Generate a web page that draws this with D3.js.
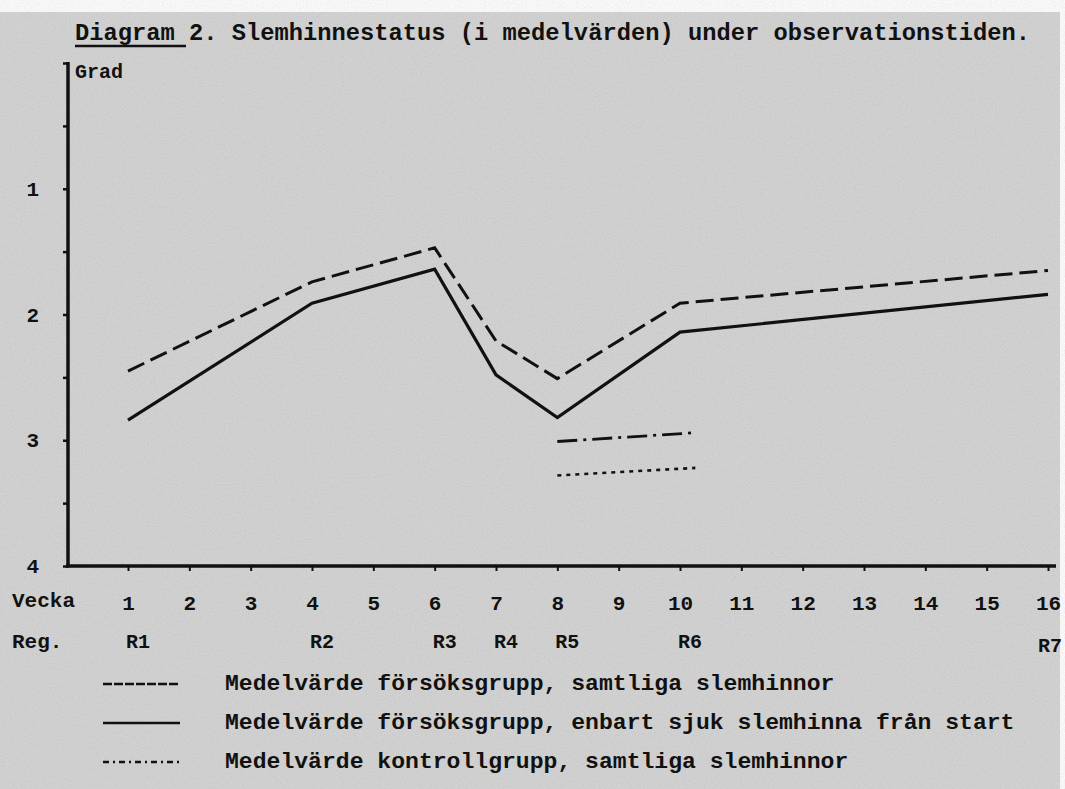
<!DOCTYPE html>
<html>
<head>
<meta charset="utf-8">
<script src="https://cdn.jsdelivr.net/npm/d3@7"></script>
<style>
  body { margin: 0; background: #fff; }
  svg text { font-family: "Liberation Mono", "DejaVu Sans Mono", monospace; fill: #111; }
</style>
</head>
<body>
<svg id="chart" width="1065" height="789"></svg>
<script>
// data
var weeks = [1, 2, 3, 4, 5, 6, 7, 8, 9, 10, 11, 12, 13, 14, 15, 16];
var regWeeks = [1, 4, 6, 7, 8, 10, 16];
var regLabels = ["R1", "R2", "R3", "R4", "R5", "R6", "R7"];
var measureWeeks = [1, 4, 6, 7, 8, 10, 16];
var allMucosa = [2.45, 1.74, 1.47, 2.21, 2.51, 1.91, 1.65];   // dashed
var sickOnly = [2.84, 1.91, 1.64, 2.48, 2.82, 2.14, 1.84];    // solid
var controlWeeks = [8, 10.25];
var controlAll = [3.01, 2.94];     // dash-dot
var controlSick = [3.28, 3.22];    // dotted
var yLabels = [1, 2, 3, 4];
var yTicks = [0, 0.5, 1, 1.5, 2, 2.5, 3, 3.5, 4];
var legendLabels = [
  "Medelvärde försöksgrupp, samtliga slemhinnor",
  "Medelvärde försöksgrupp, enbart sjuk slemhinna från start",
  "Medelvärde kontrollgrupp, samtliga slemhinnor"
];
var legendDash = ["9,2", null, "6,4,2,4"];

var svg = d3.select("#chart");
var ink = "#111";

// paper + grain
var defs = svg.append("defs");
var f = defs.append("filter").attr("id", "grain");
f.append("feTurbulence").attr("type", "fractalNoise").attr("baseFrequency", 0.9)
  .attr("numOctaves", 2).attr("seed", 4);
f.append("feColorMatrix").attr("type", "saturate").attr("values", 0);
f.append("feComponentTransfer").append("feFuncA").attr("type", "linear").attr("slope", 0.45);

svg.append("rect").attr("x", 0).attr("y", 12).attr("width", 1060).attr("height", 777).attr("fill", "#d2d2d2");
svg.append("rect").attr("x", 0).attr("y", 12).attr("width", 1060).attr("height", 777)
  .attr("filter", "url(#grain)").attr("opacity", 0.6);

var x = d3.scaleLinear().domain([1, 16]).range([128, 1048]);
var y = d3.scaleLinear().domain([0, 4]).range([63, 566]);

// title
var title = svg.append("text").attr("x", 75).attr("y", 40)
  .style("font-size", "23px").style("font-weight", "bold")
  .attr("textLength", 955).attr("lengthAdjust", "spacingAndGlyphs");
title.append("tspan").text("Diagram 2");
title.append("tspan").text(". Slemhinnestatus (i medelvärden) under observationstiden.");
svg.append("line").attr("x1", 75).attr("x2", 186).attr("y1", 46).attr("y2", 46)
  .attr("stroke", ink).attr("stroke-width", 2.5);

svg.append("text").attr("x", 75).attr("y", 78).style("font-size", "20px").style("font-weight", "bold").text("Grad");

// y axis
var yAxis = d3.axisLeft(y).tickValues(yTicks).tickSize(5).tickPadding(24)
  .tickFormat(function(d) { return yLabels.indexOf(d) >= 0 ? d : ""; });
var gy = svg.append("g").attr("transform", "translate(68,0)").call(yAxis);
gy.select(".domain").remove();
gy.selectAll(".tick line").attr("stroke", ink).attr("stroke-width", 2.5);
gy.selectAll("text").style("font-size", "21px").style("font-weight", "bold").attr("fill", ink);
svg.append("line").attr("x1", 68).attr("x2", 68).attr("y1", y(0) - 1).attr("y2", y(4) + 1.5)
  .attr("stroke", ink).attr("stroke-width", 3.5);

// x axis
var xAxis = d3.axisBottom(x).tickValues(weeks).tickSize(5).tickPadding(24);
var gx = svg.append("g").attr("transform", "translate(0," + y(4) + ")").call(xAxis);
gx.select(".domain").remove();
gx.selectAll(".tick line").attr("stroke", ink).attr("stroke-width", 2);
gx.selectAll("text").style("font-size", "21px").style("font-weight", "bold").attr("fill", ink);
svg.append("line").attr("x1", 66).attr("x2", 1056).attr("y1", y(4)).attr("y2", y(4))
  .attr("stroke", ink).attr("stroke-width", 3.5);

svg.append("text").attr("x", 12).attr("y", 607).style("font-size", "21px").style("font-weight", "bold").text("Vecka");
svg.append("text").attr("x", 12).attr("y", 648).style("font-size", "21px").style("font-weight", "bold").text("Reg.");

svg.selectAll(".reg").data(regLabels).enter().append("text")
  .attr("class", "reg")
  .attr("x", function(d, i) { return i === 6 ? 1062 : x(regWeeks[i]) + 10; })
  .attr("y", function(d, i) { return i === 6 ? 652 : 648; })
  .attr("text-anchor", function(d, i) { return i === 6 ? "end" : "middle"; })
  .style("font-size", "20px").style("font-weight", "bold")
  .text(function(d) { return d; });

// lines
var line = d3.line()
  .x(function(d) { return x(d[0]); })
  .y(function(d) { return y(d[1]); });

function pairs(xs, ys) { return xs.map(function(v, i) { return [v, ys[i]]; }); }

var series = [
  { pts: pairs(measureWeeks, allMucosa), dash: "18,7", w: 3 },
  { pts: pairs(measureWeeks, sickOnly), dash: null, w: 3.2 },
  { pts: pairs(controlWeeks, controlAll), dash: "20,6,3,6", w: 2.8 },
  { pts: pairs(controlWeeks, controlSick), dash: "4,5", w: 2.6 }
];

svg.selectAll(".series").data(series).enter().append("path")
  .attr("class", "series")
  .attr("d", function(d) { return line(d.pts); })
  .attr("fill", "none")
  .attr("stroke", ink)
  .attr("stroke-width", function(d) { return d.w; })
  .attr("stroke-linejoin", "miter")
  .attr("stroke-dasharray", function(d) { return d.dash; });

// legend
var lg = svg.selectAll(".lg").data(legendLabels).enter().append("g")
  .attr("class", "lg")
  .attr("transform", function(d, i) { return "translate(0," + (690 + i * 39) + ")"; });
lg.append("line").attr("x1", 103).attr("x2", 180).attr("y1", -6).attr("y2", -6)
  .attr("stroke", ink).attr("stroke-width", 2.6)
  .attr("stroke-dasharray", function(d, i) { return legendDash[i]; });
lg.append("text").attr("x", 225).attr("y", 0)
  .style("font-size", "22px").style("font-weight", "bold")
  .attr("textLength", function(d) { return d.length * 13.85; })
  .attr("lengthAdjust", "spacingAndGlyphs")
  .text(function(d) { return d; });
</script>
</body>
</html>
